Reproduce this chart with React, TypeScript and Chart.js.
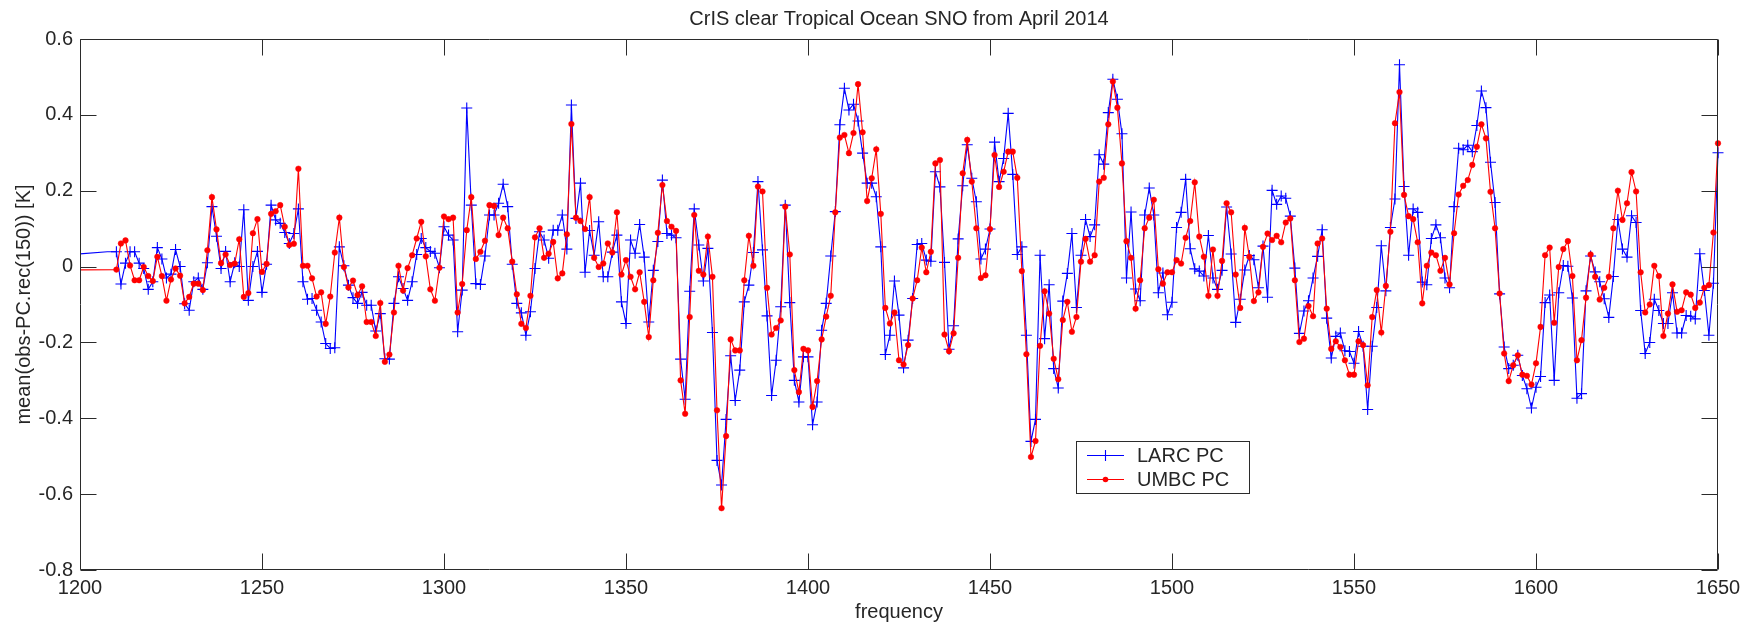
import React, { useEffect, useRef } from "react";
import { Chart, registerables } from "chart.js";

Chart.register(...registerables);

const TITLE = "CrIS clear Tropical Ocean SNO from April 2014";
const X_LABEL = "frequency";
const Y_LABEL = "mean(obs-PC.rec(150)) [K]";
const SERIES_NAMES = ["LARC PC", "UMBC PC"];

const X_TICKS = [1200, 1250, 1300, 1350, 1400, 1450, 1500, 1550, 1600, 1650];
const X_TICK_LABELS = ["1200", "1250", "1300", "1350", "1400", "1450", "1500", "1550", "1600", "1650"];
const Y_TICKS = [-0.8, -0.6, -0.4, -0.2, 0, 0.2, 0.4, 0.6];
const Y_TICK_LABELS = ["-0.8", "-0.6", "-0.4", "-0.2", "0", "0.2", "0.4", "0.6"];

// CrIS mid-wave channel grid (normal spectral resolution)
const CHANNEL_START = 1210;
const CHANNEL_STEP = 1.25;

// guard samples below the first plotted channel (line only, no marker)
const LEAD_FREQ_LARC = [1195, 1207.5];
const LEAD_LARC = [0.03, 0.039];
const LEAD_FREQ_UMBC = [1195];
const LEAD_UMBC = [-0.009];

// mean(obs - PC reconstruction) per channel, LARC
const LARC = [
  0.039, -0.046, 0.009, 0.039, 0.039, 0.009, -0.005, -0.06, -0.04, 0.05,
  0.02, -0.03, -0.02, 0.045, 0.0, -0.098, -0.115, -0.04, -0.03, -0.06,
  0.01, 0.158, 0.08, -0.005, 0.04, -0.04, 0.01, 0.0, 0.15, -0.089,
  0.0, 0.04, -0.068, 0.006, 0.162, 0.123, 0.114, 0.09, 0.061, 0.087,
  0.152, -0.04, -0.086, -0.084, -0.115, -0.146, -0.203, -0.216, -0.214, 0.052,
  0.002, -0.049, -0.082, -0.097, -0.068, -0.102, -0.102, -0.17, -0.124, -0.243,
  -0.244, -0.097, -0.027, -0.058, -0.089, -0.04, 0.032, 0.074, 0.05, 0.04,
  0.035, -0.003, 0.105, 0.083, 0.07, -0.172, -0.062, 0.418, 0.162, -0.045,
  -0.047, 0.028, 0.136, 0.136, 0.167, 0.217, 0.158, 0.006, -0.097, -0.122,
  -0.181, -0.119, -0.005, 0.092, 0.07, 0.022, 0.096, 0.096, 0.136, 0.046,
  0.426, 0.127, 0.22, -0.015, 0.095, 0.03, 0.118, -0.027, -0.027, 0.038,
  0.083, -0.093, -0.15, 0.07, 0.035, 0.111, 0.025, -0.146, -0.01, 0.066,
  0.228, 0.087, 0.083, 0.076, -0.244, -0.35, -0.065, 0.152, 0.057, -0.038,
  0.048, -0.174, -0.511, -0.576, -0.403, -0.235, -0.353, -0.273, -0.093, -0.049,
  0.037, 0.224, 0.044, -0.13, -0.34, -0.247, -0.106, 0.162, -0.095, -0.3,
  -0.357, -0.238, -0.238, -0.417, -0.357, -0.168, -0.097, 0.028, 0.145, 0.374,
  0.47, 0.413, 0.428, 0.384, 0.299, 0.22, 0.22, 0.184, 0.052, -0.232,
  -0.181, -0.038, -0.128, -0.267, -0.194, -0.084, 0.058, 0.061, 0.017, 0.014,
  0.25, 0.21, 0.011, -0.218, -0.156, 0.073, 0.213, 0.321, 0.233, 0.171,
  0.02, 0.046, 0.099, 0.328, 0.224, 0.285, 0.404, 0.243, 0.032, 0.052,
  -0.181, -0.461, -0.403, 0.03, -0.19, -0.048, -0.269, -0.32, -0.091, -0.018,
  0.087, -0.108, 0.03, 0.124, 0.079, 0.11, 0.295, 0.27, 0.406, 0.494,
  0.441, 0.35, -0.03, 0.144, -0.059, -0.09, 0.136, 0.207, 0.136, -0.069,
  -0.017, -0.127, -0.094, 0.103, 0.143, 0.23, 0.047, -0.006, -0.012, -0.025,
  0.082, -0.03, -0.06, -0.01, 0.157, 0.033, -0.147, -0.086, -0.009, 0.029,
  0.018, -0.056, 0.054, -0.081, 0.201, 0.164, 0.186, 0.18, 0.133, -0.004,
  -0.176, -0.117, -0.09, -0.03, 0.027, 0.097, -0.136, -0.241, -0.184, -0.175,
  -0.222, -0.224, -0.255, -0.171, -0.21, -0.377, -0.21, -0.108, 0.055, -0.064,
  0.103, 0.178, 0.532, 0.211, 0.03, 0.152, 0.143, -0.041, -0.048, 0.074,
  0.11, 0.076, -0.03, -0.056, 0.158, 0.312, 0.308, 0.32, 0.303, 0.372,
  0.463, 0.419, 0.275, 0.169, -0.072, -0.212, -0.269, -0.26, -0.234, -0.287,
  -0.322, -0.373, -0.318, -0.29, -0.095, -0.075, -0.3, -0.069, 0.003, 0.001,
  -0.083, -0.347, -0.335, -0.064, 0.028, -0.014, -0.04, -0.085, -0.134, -0.026,
  0.124, 0.046, 0.025, 0.134, 0.116, -0.116, -0.229, -0.2, -0.086, -0.116,
  -0.15, -0.15, -0.069, -0.175, -0.175, -0.129, -0.131, -0.138, 0.034, -0.063,
  -0.181, -0.044, 0.3,
];

// mean(obs - PC reconstruction) per channel, UMBC
const UMBC = [
  -0.008, 0.061, 0.069, 0.003, -0.036, -0.036, -0.001, -0.025, -0.038, 0.026,
  -0.025, -0.09, -0.034, -0.005, -0.024, -0.097, -0.08, -0.045, -0.045, -0.062,
  0.043, 0.183, 0.098, 0.009, 0.032, 0.004, 0.008, 0.072, -0.08, -0.07,
  0.088, 0.125, -0.014, 0.007, 0.139, 0.146, 0.162, 0.105, 0.057, 0.06,
  0.258, 0.002, 0.002, -0.031, -0.079, -0.068, -0.151, -0.079, 0.037, 0.129,
  -0.001, -0.055, -0.037, -0.075, -0.052, -0.146, -0.146, -0.183, -0.096, -0.251,
  -0.232, -0.121, 0.002, -0.063, -0.004, 0.03, 0.074, 0.118, 0.027, -0.06,
  -0.09, -0.003, 0.132, 0.125, 0.129, -0.121, -0.046, 0.096, 0.183, 0.02,
  0.039, 0.068, 0.162, 0.16, 0.083, 0.129, 0.101, 0.013, -0.073, -0.151,
  -0.162, -0.077, 0.077, 0.101, 0.023, 0.034, 0.065, -0.031, -0.018, 0.085,
  0.376, 0.129, 0.12, 0.099, 0.183, 0.023, -0.001, 0.008, 0.061, 0.037,
  0.143, -0.021, 0.017, -0.027, -0.06, -0.015, -0.093, -0.186, -0.036, 0.089,
  0.215, 0.12, 0.105, 0.094, -0.3, -0.388, -0.133, 0.136, -0.011, -0.021,
  0.079, -0.027, -0.379, -0.637, -0.447, -0.192, -0.221, -0.221, -0.036, 0.081,
  0.002, 0.211, 0.198, -0.056, -0.179, -0.162, -0.142, 0.158, 0.032, -0.273,
  -0.331, -0.217, -0.221, -0.37, -0.302, -0.192, -0.132, -0.077, 0.143, 0.34,
  0.347, 0.299, 0.352, 0.481, 0.354, 0.173, 0.233, 0.309, 0.139, -0.109,
  -0.15, -0.121, -0.247, -0.258, -0.207, -0.084, -0.036, 0.05, -0.015, 0.039,
  0.272, 0.281, -0.179, -0.223, -0.176, 0.023, 0.246, 0.334, 0.224, 0.101,
  -0.03, -0.023, 0.099, 0.294, 0.21, 0.25, 0.303, 0.303, 0.234, -0.012,
  -0.231, -0.502, -0.46, -0.209, -0.065, -0.124, -0.243, -0.297, -0.141, -0.093,
  -0.172, -0.133, 0.013, 0.073, 0.013, 0.03, 0.224, 0.234, 0.375, 0.488,
  0.419, 0.272, 0.067, 0.023, -0.111, -0.036, 0.101, 0.129, 0.176, -0.007,
  -0.045, -0.015, -0.015, 0.017, 0.008, 0.076, 0.12, 0.222, 0.079, 0.026,
  -0.077, 0.045, -0.077, 0.015, 0.167, 0.143, -0.021, -0.109, 0.102, 0.026,
  -0.091, -0.068, 0.052, 0.087, 0.07, 0.081, 0.064, 0.116, 0.127, -0.036,
  -0.199, -0.19, -0.104, -0.131, 0.061, 0.074, -0.111, -0.217, -0.197, -0.212,
  -0.247, -0.285, -0.285, -0.197, -0.207, -0.313, -0.133, -0.062, -0.174, -0.051,
  0.092, 0.378, 0.46, 0.189, 0.133, 0.125, 0.064, -0.097, 0.002, 0.037,
  0.03, -0.011, 0.023, -0.047, 0.088, 0.19, 0.213, 0.228, 0.268, 0.316,
  0.375, 0.338, 0.197, 0.101, -0.071, -0.229, -0.302, -0.26, -0.234, -0.285,
  -0.288, -0.311, -0.255, -0.159, 0.03, 0.05, -0.148, -0.001, 0.046, 0.067,
  -0.025, -0.247, -0.194, -0.082, 0.032, -0.027, -0.087, -0.056, -0.027, 0.101,
  0.2, 0.123, 0.167, 0.249, 0.198, -0.015, -0.121, -0.1, 0.002, -0.025,
  -0.183, -0.124, -0.047, -0.119, -0.115, -0.068, -0.074, -0.109, -0.095, -0.056,
  -0.049, 0.09, 0.325,
];

const CHANNELS = LARC.map((_, i) => CHANNEL_START + i * CHANNEL_STEP);

const FONT = '"Liberation Sans", Arial, Helvetica, sans-serif';
const TEXT_COLOR = "#262626";
const AXIS_COLOR = "#2b2b2b";
const BLUE = "#0000ff";
const RED = "#ff0000";
const TICK_LEN = 16;
const CROSS_R = 5.5;
const DOT_R = 2.8;

function toPoints(leadX: number[], leadY: number[], ys: number[]) {
  const pts = leadX.map((x, i) => ({ x, y: leadY[i] }));
  return pts.concat(ys.map((y, i) => ({ x: CHANNELS[i], y })));
}

const framePlugin = {
  id: "matlabFrame",
  afterDraw(chart: any) {
    const { ctx, chartArea: a, scales } = chart;
    const xs = scales.x;
    const ys = scales.y;
    const left = Math.round(a.left) + 0.5;
    const right = Math.round(a.right) - 0.5;
    const top = Math.round(a.top) + 0.5;
    const bottom = Math.round(a.bottom) - 0.5;
    ctx.save();
    ctx.strokeStyle = AXIS_COLOR;
    ctx.lineWidth = 1;
    ctx.beginPath();
    ctx.rect(left, top, right - left, bottom - top);
    for (const v of X_TICKS) {
      const px = Math.round(xs.getPixelForValue(v)) + 0.5;
      ctx.moveTo(px, bottom);
      ctx.lineTo(px, bottom - TICK_LEN);
      ctx.moveTo(px, top);
      ctx.lineTo(px, top + TICK_LEN);
    }
    for (const v of Y_TICKS) {
      const py = Math.round(ys.getPixelForValue(v)) + 0.5;
      ctx.moveTo(left, py);
      ctx.lineTo(left + TICK_LEN, py);
      ctx.moveTo(right, py);
      ctx.lineTo(right - TICK_LEN, py);
    }
    ctx.stroke();

    // titles
    ctx.fillStyle = TEXT_COLOR;
    ctx.font = `20px ${FONT}`;
    ctx.textAlign = "center";
    ctx.textBaseline = "middle";
    const cx = (a.left + a.right) / 2;
    ctx.fillText(TITLE, cx, 19);
    ctx.fillText(X_LABEL, cx, 612);
    ctx.save();
    ctx.translate(24, (a.top + a.bottom) / 2);
    ctx.rotate(-Math.PI / 2);
    ctx.fillText(Y_LABEL, 0, 0);
    ctx.restore();

    // legend box
    const bx = 1076.5;
    const by = 441.5;
    const bw = 173;
    const bh = 52;
    ctx.fillStyle = "#ffffff";
    ctx.fillRect(bx, by, bw, bh);
    ctx.strokeStyle = AXIS_COLOR;
    ctx.lineWidth = 1;
    ctx.strokeRect(bx, by, bw, bh);
    const rows = [455.5, 479.5];
    const colors = [BLUE, RED];
    rows.forEach((ry, k) => {
      ctx.strokeStyle = colors[k];
      ctx.lineWidth = 1.2;
      ctx.beginPath();
      ctx.moveTo(1087, ry);
      ctx.lineTo(1124, ry);
      ctx.stroke();
      if (k === 0) {
        ctx.lineWidth = 1.1;
        ctx.beginPath();
        ctx.moveTo(1105.5 - CROSS_R, ry);
        ctx.lineTo(1105.5 + CROSS_R, ry);
        ctx.moveTo(1105.5, ry - CROSS_R);
        ctx.lineTo(1105.5, ry + CROSS_R);
        ctx.stroke();
      } else {
        ctx.fillStyle = RED;
        ctx.beginPath();
        ctx.arc(1105.5, ry, DOT_R, 0, Math.PI * 2);
        ctx.fill();
      }
      ctx.fillStyle = TEXT_COLOR;
      ctx.textAlign = "left";
      ctx.textBaseline = "middle";
      ctx.fillText(SERIES_NAMES[k], 1137, ry + 1);
    });
    ctx.restore();
  },
};

export default function App() {
  const canvasRef = useRef<HTMLCanvasElement | null>(null);

  useEffect(() => {
    document.body.style.margin = "0";
    const canvas = canvasRef.current;
    if (!canvas) return;
    const larcLead = LEAD_FREQ_LARC.length;
    const umbcLead = LEAD_FREQ_UMBC.length;
    const chart = new Chart(canvas, {
      type: "line",
      data: {
        datasets: [
          {
            label: SERIES_NAMES[0],
            data: toPoints(LEAD_FREQ_LARC, LEAD_LARC, LARC),
            borderColor: BLUE,
            borderWidth: 1.1,
            pointStyle: "cross",
            pointRadius: (c: any) => (c.dataIndex < larcLead ? 0 : CROSS_R),
            pointBorderColor: BLUE,
            pointBorderWidth: 1.1,
            pointBackgroundColor: BLUE,
            tension: 0,
            order: 1,
            clip: { left: 0, top: 8, right: 8, bottom: 8 },
          },
          {
            label: SERIES_NAMES[1],
            data: toPoints(LEAD_FREQ_UMBC, LEAD_UMBC, UMBC),
            borderColor: RED,
            borderWidth: 1.1,
            pointStyle: "circle",
            pointRadius: (c: any) => (c.dataIndex < umbcLead ? 0 : DOT_R),
            pointBorderColor: RED,
            pointBorderWidth: 0.5,
            pointBackgroundColor: RED,
            tension: 0,
            order: 0,
            clip: { left: 0, top: 8, right: 8, bottom: 8 },
          },
        ],
      } as any,
      options: {
        responsive: false,
        animation: false,
        devicePixelRatio: 1,
        layout: { padding: { left: 0, right: 36, top: 39, bottom: 0 } },
        plugins: {
          legend: { display: false },
          tooltip: { enabled: false },
          title: { display: false },
        },
        elements: { line: { fill: false } },
        scales: {
          x: {
            type: "linear",
            min: 1200,
            max: 1650,
            grid: { display: false, drawTicks: false },
            border: { display: false },
            afterBuildTicks: (s: any) => {
              s.ticks = X_TICKS.map((v) => ({ value: v }));
            },
            afterFit: (s: any) => {
              s.height = 56;
            },
            ticks: {
              autoSkip: false,
              maxRotation: 0,
              padding: 6,
              color: TEXT_COLOR,
              font: { family: FONT, size: 20 },
              callback: (v: any) => X_TICK_LABELS[X_TICKS.indexOf(Number(v))] ?? String(v),
            },
          },
          y: {
            type: "linear",
            min: -0.8,
            max: 0.6,
            grid: { display: false, drawTicks: false },
            border: { display: false },
            afterBuildTicks: (s: any) => {
              s.ticks = Y_TICKS.map((v) => ({ value: v }));
            },
            afterFit: (s: any) => {
              s.width = 80;
            },
            ticks: {
              padding: 7,
              color: TEXT_COLOR,
              font: { family: FONT, size: 20 },
              callback: (v: any) => {
                const n = Number(v);
                let best = 0;
                Y_TICKS.forEach((t, i) => {
                  if (Math.abs(t - n) < Math.abs(Y_TICKS[best] - n)) best = i;
                });
                return Y_TICK_LABELS[best];
              },
            },
          },
        },
      },
      plugins: [framePlugin],
    });
    return () => chart.destroy();
  }, []);

  return (
    <div style={{ width: 1754, height: 626, background: "#ffffff" }}>
      <canvas ref={canvasRef} width={1754} height={626} style={{ display: "block" }} />
    </div>
  );
}
